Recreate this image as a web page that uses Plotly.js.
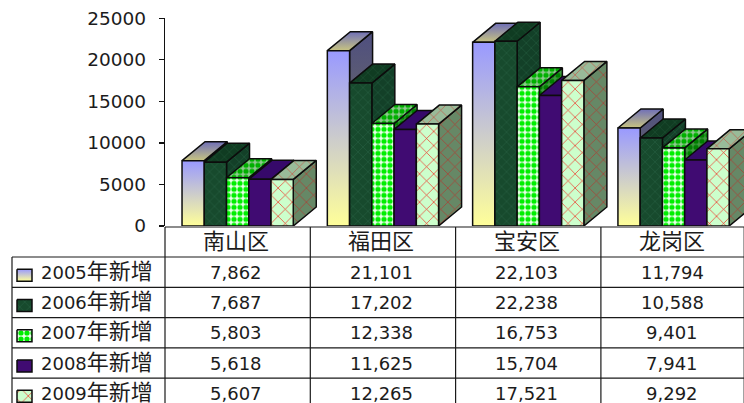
<!DOCTYPE html>
<html>
<head>
<meta charset="utf-8">
<script src="https://cdn.plot.ly/plotly-3.0.1.min.js"></script>
<style>
html,body{margin:0;padding:0;background:#fff;overflow:hidden}
#chart{width:744px;height:403px;overflow:hidden}
</style>
</head>
<body>
<div id="chart"></div>
<script>
// Annual additions per district, 2005-2009
const districts = ['南山区', '福田区', '宝安区', '龙岗区'];
const years = ['2005', '2006', '2007', '2008', '2009'];
const added2005 = [7862, 21101, 22103, 11794];
const added2006 = [7687, 17202, 22238, 10588];
const added2007 = [5803, 12338, 16753, 9401];
const added2008 = [5618, 11625, 15704, 7941];
const added2009 = [5607, 12265, 17521, 9292];
const seriesValues = [added2005, added2006, added2007, added2008, added2009];
const yTicks = [0, 5000, 10000, 15000, 20000, 25000];

// Canvas geometry, in pixels
const W = 800, H = 403;
const plotLeft = 165, catWidth = 145.3;
const plotTop = 18.3, plotBottom = 226;
const xMax = 3.8;

// Bar extrusion and width, in axis units
const barW = 22.25 / catWidth;
const depthX = 23 / catWidth;
const depthY = 19 * 25000 / (plotBottom - plotTop);

const sharp = {mode: 'lines', line: {color: '#0c0c0c', width: 1.5}, hoverinfo: 'skip', showlegend: false};

// Fill styles for the front, side and top faces of each series
const grad = (bottom, top) => ({type: 'vertical', colorscale: [[0, bottom], [1, top]]});
const pat = (shape, fg, bg, size, solidity) => ({shape, fgcolor: fg, bgcolor: bg, size, solidity});
const styles = [
  {front: {g: ['#ffff99', '#9999ff']}, side: {g: ['#80804d', '#4f4f80']}, top: {g: ['#c8c480', '#6f6fb8']}},
  {front: {p: pat('x', '#2a6344', '#174a2d', 7, 0.14)}, side: {p: pat('x', '#266040', '#134028', 7, 0.14)}, top: {p: pat('x', '#1f5535', '#103c22', 7, 0.14)}},
  {front: {p: pat('.', '#00ee00', '#eaffea', 6, 0.6)}, side: {p: pat('.', '#007f00', '#409a40', 6, 0.6)}, top: {p: pat('.', '#00b000', '#90c890', 6, 0.6)}},
  {front: {c: '#400b72'}, side: {c: '#2e0854'}, top: {c: '#36096a'}},
  {front: {p: pat('x', '#f02a20', '#ccffcc', 10, 0.13)}, side: {p: pat('x', '#b03a30', '#668866', 10, 0.13)}, top: {p: pat('x', '#c25a48', '#99bb99', 10, 0.13)}}
];

function face(xs, ys, style, name, axes) {
  const t = Object.assign({}, sharp, {x: xs, y: ys, fill: 'toself', name}, axes || {});
  if (style.g) {
    t.fillgradient = grad(style.g[0], style.g[1]);
  } else if (style.p) {
    t.fillcolor = style.p.bgcolor;
    t.fillpattern = style.p;
  } else {
    t.fillcolor = style.c;
  }
  return t;
}

const traces = [];

// Bars are layered in series order so each one overlaps the extrusion of the last
seriesValues.forEach((values, s) => {
  values.forEach((v, c) => {
    const x0 = c - 2.5 * barW + s * barW;
    const x1 = x0 + barW;
    const name = years[s] + ' ' + districts[c];
    traces.push(face([x1, x1 + depthX, x1 + depthX, x1, x1], [0, depthY, v + depthY, v, 0], styles[s].side, name + ' side'));
    traces.push(face([x0, x1, x1 + depthX, x0 + depthX, x0], [v, v, v + depthY, v + depthY, v], styles[s].top, name + ' top'));
    traces.push(face([x0, x1, x1, x0, x0], [0, 0, v, v, 0], styles[s].front, name));
  });
});

// Data table below the plot, on a second full-canvas pixel-scaled subplot
const colX = [plotLeft, plotLeft + catWidth, plotLeft + 2 * catWidth, plotLeft + 3 * catWidth, plotLeft + 4 * catWidth - 2];
const tableLeft = 12;
const headerTop = 227, headerBottom = 257;
const rowH = 30.3;
const tableBottom = 410;
const labelShift = -1.5;

const shapes = [];
const px = {xref: 'x2', yref: 'y2', type: 'line', line: {color: '#1a1a1a', width: 1.2}, layer: 'above'};
const hline = (y, a, b) => shapes.push(Object.assign({}, px, {x0: a, x1: b, y0: y, y1: y}));
const vline = (x, a, b) => shapes.push(Object.assign({}, px, {x0: x, x1: x, y0: a, y1: b}));

hline(headerTop, plotLeft, colX[4]);
for (let r = 0; r < years.length; r++) hline(headerBottom + r * rowH, tableLeft, colX[4]);
vline(tableLeft, headerBottom, tableBottom);
colX.forEach(x => vline(x, headerTop, tableBottom));

const fontStack = '"DejaVu Sans", "Noto Sans CJK SC", sans-serif';
const annotations = [];
const label = (x, y, text, anchor) => annotations.push({
  xref: 'x2', yref: 'y2', x, y, text, showarrow: false, xanchor: anchor || 'center', yanchor: 'middle',
  font: {family: fontStack, size: 18, color: '#1c1c1c'}
});

districts.forEach((d, c) => label(plotLeft + (c + 0.5) * catWidth + labelShift, 241, '<span style="font-size:22px">' + d + '</span>'));

const pxAxes = {xaxis: 'x2', yaxis: 'y2'};
years.forEach((yr, s) => {
  const cy = headerBottom + (s + 0.5) * rowH;
  label(38.5, cy - 1, yr + '<span style="font-size:22px">年新增</span>', 'left');
  seriesValues[s].forEach((v, c) => label(plotLeft + (c + 0.5) * catWidth + labelShift, cy, v.toLocaleString('en-US')));
  const k0 = 17, k1 = 32, kt = cy - 3, kb = cy + 9;
  traces.push(face([k0, k1, k1, k0, k0], [kt, kt, kb, kb, kt], styles[s].front, yr + '年新增', pxAxes));
});

const layout = {
  width: W, height: H,
  margin: {l: 0, r: 0, t: 0, b: 0},
  paper_bgcolor: '#fff', plot_bgcolor: 'rgba(0,0,0,0)',
  showlegend: false,
  xaxis: {
    domain: [plotLeft / W, (plotLeft + (xMax + 0.5) * catWidth) / W],
    range: [-0.5, xMax], showgrid: false, zeroline: false, showline: false,
    showticklabels: false, ticks: ''
  },
  yaxis: {
    domain: [1 - plotBottom / H, 1 - plotTop / H],
    range: [0, 25000], tickvals: yTicks, ticktext: yTicks.map(String),
    showgrid: false, zeroline: false, showline: true, linecolor: '#111', linewidth: 1.2,
    ticks: 'outside', ticklen: 5, tickcolor: '#111', tickwidth: 1.2,
    ticklabelstandoff: 9,
    tickfont: {family: fontStack, size: 18.5, color: '#1c1c1c'}
  },
  xaxis2: {domain: [0, 1], range: [0, W], visible: false, anchor: 'y2', fixedrange: true},
  yaxis2: {domain: [0, 1], range: [H, 0], visible: false, anchor: 'x2', fixedrange: true},
  shapes, annotations
};

Plotly.newPlot('chart', traces, layout, {displayModeBar: false, staticPlot: true});
</script>
</body>
</html>
